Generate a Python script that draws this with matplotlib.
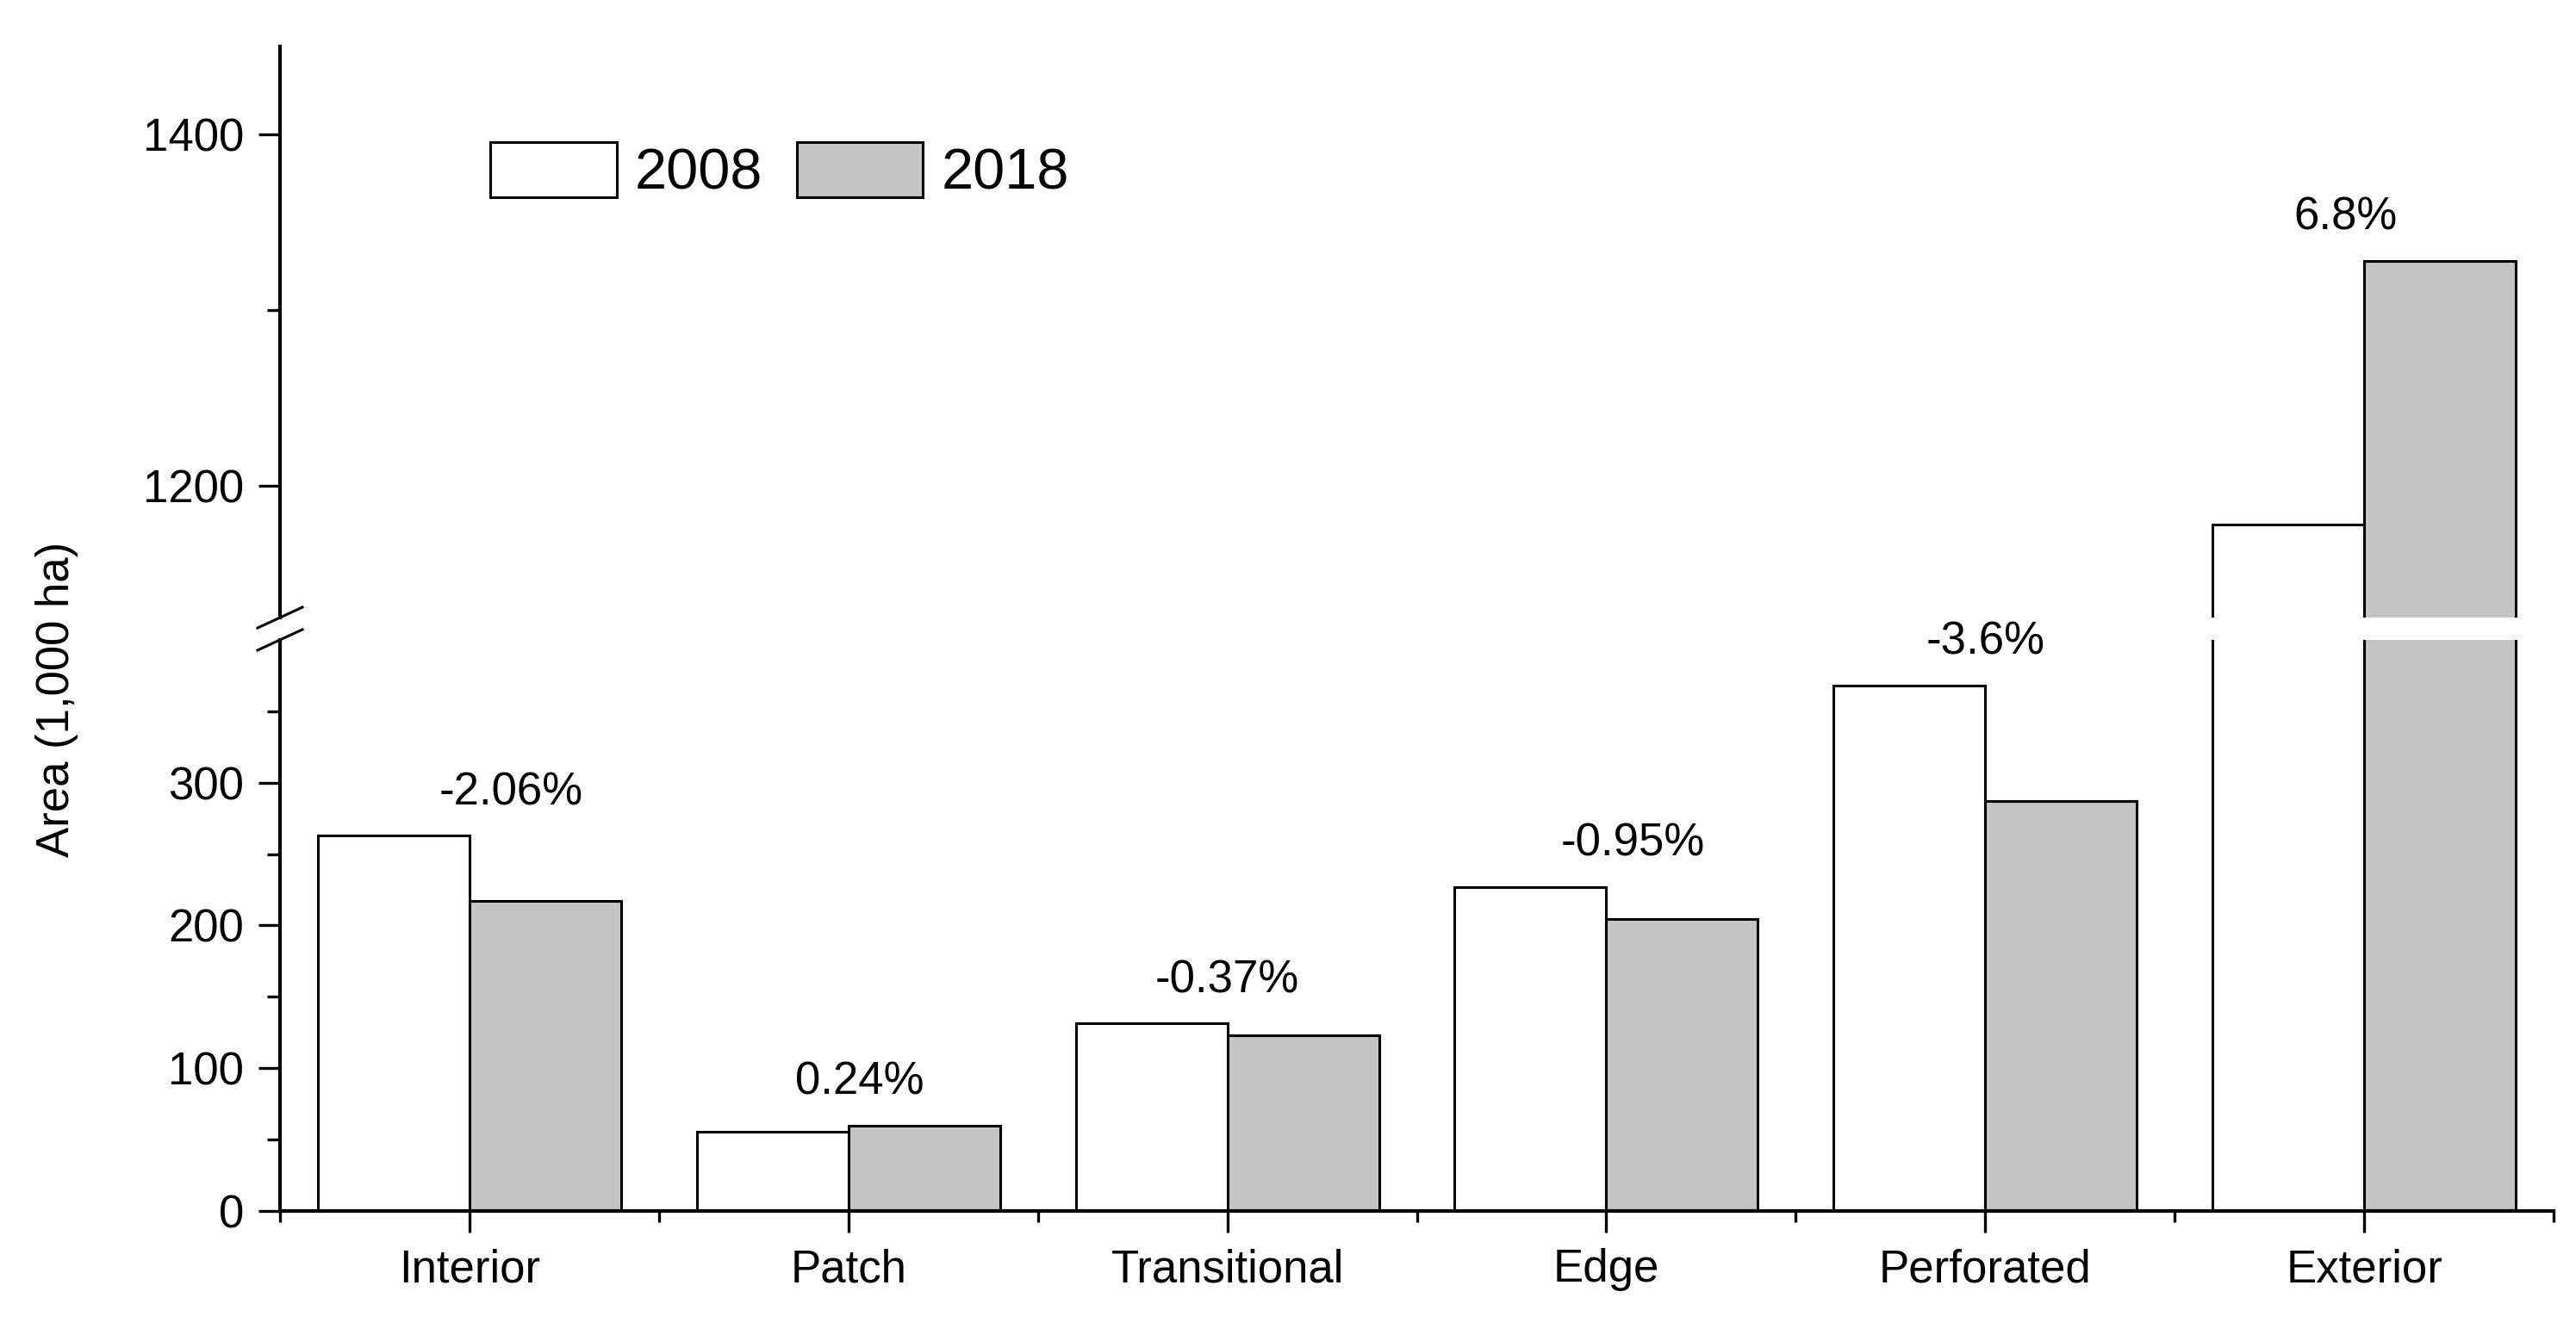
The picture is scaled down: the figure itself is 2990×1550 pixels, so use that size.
import numpy as np
import matplotlib.pyplot as plt

plt.rcParams['font.family'] = ['Liberation Sans', 'DejaVu Sans']

# ---- data (area, 1,000 ha) ----
categories = ['Interior', 'Patch', 'Transitional', 'Edge', 'Perforated', 'Exterior']
area_2008 = [263, 55.5, 131.5, 227, 368, 1178]
area_2018 = [217, 60, 123, 204.5, 287, 1328]
change_labels = ['-2.06%', '0.24%', '-0.37%', '-0.95%', '-3.6%', '6.8%']

# small horizontal nudges of the change labels (category units)
label_shift = [0.11, 0.03, 0.0, 0.07, 0.0, -0.05]

low_lim = (0, 400)
high_lim = (1125, 1450)

fig = plt.figure(figsize=(29.9, 15.5), dpi=100)
ax_top = fig.add_axes([0.1087, 0.5374, 0.8826, 0.4278])
ax_bot = fig.add_axes([0.1087, 0.0929, 0.8826, 0.4278])

x = np.arange(len(categories))
w = 0.4
for ax in (ax_top, ax_bot):
    b1 = ax.bar(x - w / 2, area_2008, w, color='white', edgecolor='black',
                linewidth=2.2, label='2008')
    b2 = ax.bar(x + w / 2, area_2018, w, color='#c4c4c4', edgecolor='black',
                linewidth=2.2, label='2018')
    ax.set_xlim(-0.5, 5.5)
    ax.spines['top'].set_visible(False)
    ax.spines['right'].set_visible(False)
    ax.spines['left'].set_linewidth(3)
    ax.spines['bottom'].set_linewidth(3)
    ax.tick_params(axis='y', which='major', direction='out', length=18,
                   width=2.4, labelsize=38, pad=12)
    ax.tick_params(axis='y', which='minor', direction='out', length=11, width=2.4)

# upper segment
ax_top.set_ylim(*high_lim)
ax_top.spines['bottom'].set_visible(False)
ax_top.tick_params(axis='x', which='both', bottom=False, labelbottom=False)
ax_top.set_yticks([1200, 1400])
ax_top.set_yticks([1300], minor=True)

# lower segment
ax_bot.set_ylim(*low_lim)
ax_bot.set_yticks([0, 100, 200, 300])
ax_bot.set_yticks([50, 150, 250, 350], minor=True)
ax_bot.set_xticks(x, categories)
ax_bot.set_xticks(np.arange(-0.5, 6, 1), minor=True)
ax_bot.tick_params(axis='x', which='major', direction='out', length=18,
                   width=2.4, labelsize=38, pad=13)
ax_bot.tick_params(axis='x', which='minor', direction='out', length=9, width=2.4)

# break marks on the y axis
dx = 26 / 2639
dy = 12 / 663
ax_top.plot([-dx, dx], [-dy, dy], transform=ax_top.transAxes, color='black',
            lw=2.2, clip_on=False)
ax_bot.plot([-dx, dx], [1 - dy, 1 + dy], transform=ax_bot.transAxes, color='black',
            lw=2.2, clip_on=False)

# percent change labels
for i, txt in enumerate(change_labels):
    top = max(area_2008[i], area_2018[i])
    ax = ax_top if top > low_lim[1] else ax_bot
    ax.annotate(txt, xy=(x[i] + label_shift[i], top), xytext=(0, 36),
                textcoords='offset points', ha='center', va='center',
                fontsize=38, annotation_clip=False)

fig.text(66 / 2990, 1 - 812 / 1550, 'Area (1,000 ha)', rotation=90,
         ha='center', va='center', fontsize=38)

fig.legend(handles=[b1, b2], loc='center left',
           bbox_to_anchor=(569 / 2990, 1 - 199 / 1550), ncol=2, frameon=False,
           fontsize=48, handlelength=2.2, handleheight=1.1, handletextpad=0.32,
           columnspacing=0.59, borderpad=0, borderaxespad=0)

fig.savefig('out.png', dpi=100)
